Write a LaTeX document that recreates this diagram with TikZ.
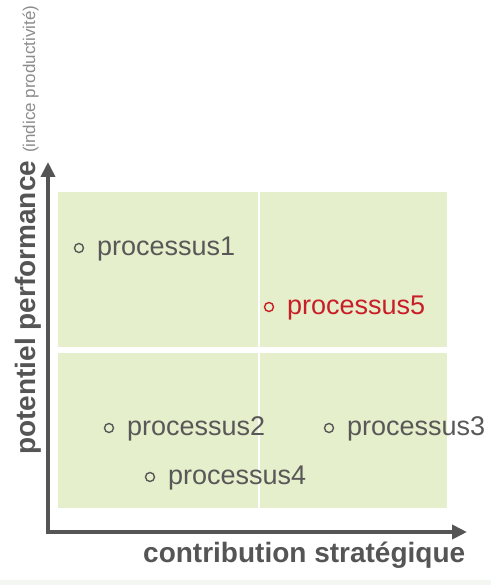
\documentclass[tikz,border=0pt]{standalone}
\usepackage{fontspec}
\setmainfont{Liberation Sans}
\usetikzlibrary{arrows.meta}

\definecolor{quadgreen}{RGB}{230,239,203}
\definecolor{axisgray}{RGB}{85,85,85}
\definecolor{textgray}{RGB}{88,88,88}
\definecolor{notegray}{RGB}{140,140,140}
\definecolor{hotred}{RGB}{200,30,40}
\definecolor{footgray}{RGB}{244,246,241}

\tikzset{
  quad/.style={fill=quadgreen, draw=none},
  axisline/.style={draw=axisgray, line width=4pt, line join=miter,
    {Triangle[length=15pt,width=14pt]}-{Triangle[length=15pt,width=14pt]}},
  dot/.style={circle, draw=#1, line width=1.4pt, minimum size=9pt, inner sep=0pt},
  dot/.default=textgray,
  proclabel/.style={anchor=base west, inner sep=0pt, text=textgray,
    font=\fontsize{27}{30}\selectfont},
  axislabel/.style={anchor=base west, inner sep=0pt, text=axisgray,
    font=\bfseries\fontsize{28}{32}\selectfont},
}

\begin{document}
\begin{tikzpicture}[x=1pt,y=-1pt]
  \useasboundingbox (0,0) rectangle (491,585);
  \fill[footgray] (0,580) rectangle (491,585);

  % four quadrants of the portfolio
  \fill[quad] (58,192) rectangle (258,347);
  \fill[quad] (260,192) rectangle (447,347);
  \fill[quad] (58,353) rectangle (258,508);
  \fill[quad] (260,353) rectangle (447,508);

  % axes
  \coordinate (yTip) at (48,162);
  \coordinate (origin) at (48,532);
  \coordinate (xTip) at (467,532);
  \draw[axisline] (yTip) -- (origin) -- (xTip);

  % axis titles
  \node[axislabel] (xlab) at (143,562) {contribution stratégique};
  \node[axislabel, rotate=90] (ylab) at (35,455)
    {potentiel performance {\mdseries\color{notegray}\fontsize{17}{20}\selectfont (indice productivité)}};

  % processes
  \node[dot] (d1) at (79,248) {};
  \node[proclabel] (p1) at (97,255) {processus1};
  \node[dot=hotred] (d5) at (269,307) {};
  \node[proclabel, text=hotred] (p5) at (287,314) {processus5};
  \node[dot] (d2) at (109,428) {};
  \node[proclabel] (p2) at (127,435) {processus2};
  \node[dot] (d3) at (329,428) {};
  \node[proclabel] (p3) at (347,435) {processus3};
  \node[dot] (d4) at (150,477) {};
  \node[proclabel] (p4) at (168,484) {processus4};
\end{tikzpicture}
\end{document}
